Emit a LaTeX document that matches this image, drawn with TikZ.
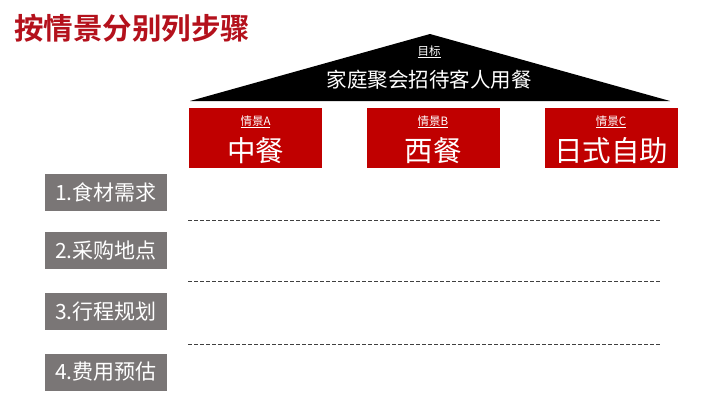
\documentclass[tikz,border=0pt]{standalone}
\usepackage{fontspec}
\newfontfamily\cjk{Noto Sans CJK SC}
\newfontfamily\cjkb{Noto Sans CJK SC Bold}
\definecolor{titlered}{HTML}{B4111C}
\definecolor{boxred}{HTML}{C00000}
\definecolor{boxgray}{HTML}{7A7676}
\definecolor{dashgray}{HTML}{404040}
\tikzset{
  redbox/.style={fill=boxred, draw=none, minimum width=133pt, minimum height=60pt, inner sep=0pt},
  graybox/.style={fill=boxgray, draw=none, minimum width=122pt, minimum height=37pt, inner sep=0pt, text=white, font=\cjk\fontsize{21}{23}\selectfont},
  sep/.style={draw=dashgray, dashed, dash pattern=on 3.5pt off 2.5pt, line width=0.8pt},
  small/.style={text=white, font=\cjk\fontsize{11.5}{13}\selectfont, inner sep=0pt},
  big/.style={text=white, font=\cjk\fontsize{28.5}{31}\selectfont, inner sep=0pt}
}
\begin{document}
\begin{tikzpicture}[x=1pt,y=-1pt]
\useasboundingbox (0,0) rectangle (720,405);
\fill[white] (0,0) rectangle (720,405);
% title
\node[anchor=west, text=titlered, font=\cjkb\fontsize{29.5}{32}\selectfont, inner sep=0pt] (title) at (14,28) {按情景分别列步骤};
% roof
\coordinate (apex) at (430,34);
\coordinate (bl) at (190,101);
\coordinate (br) at (670,101);
\fill[black] (bl) -- (apex) -- (br) -- cycle;
\node[small] (goal) at (429,52) {\underline{目标}};
\node[text=white, font=\cjk\fontsize{20.5}{22}\selectfont, inner sep=0pt] (goaltext) at (429,80) {家庭聚会招待客人用餐};
% red boxes
\node[redbox] (A) at (255.5,138) {};
\node[redbox] (B) at (433,138) {};
\node[redbox] (C) at (611,138) {};
\node[small] (Al) at (255.5,122) {\underline{情景A}};
\node[small] (Bl) at (433,122) {\underline{情景B}};
\node[small] (Cl) at (611,122) {\underline{情景C}};
\node[big] (At) at (255.5,151) {中餐};
\node[big] (Bt) at (433,151) {西餐};
\node[big] (Ct) at (611,151) {日式自助};
% gray boxes
\node[graybox] (s1) at (106,192.5) {1.食材需求};
\node[graybox] (s2) at (106,250.5) {2.采购地点};
\node[graybox] (s3) at (106,311.5) {3.行程规划};
\node[graybox] (s4) at (106,372) {4.费用预估};
% dashed lines
\coordinate (d1l) at (188,220); \coordinate (d1r) at (660,220);
\coordinate (d2l) at (188,281); \coordinate (d2r) at (660,281);
\coordinate (d3l) at (188,344); \coordinate (d3r) at (660,344);
\draw[sep] (d1l) -- (d1r);
\draw[sep] (d2l) -- (d2r);
\draw[sep] (d3l) -- (d3r);
\end{tikzpicture}
\end{document}
